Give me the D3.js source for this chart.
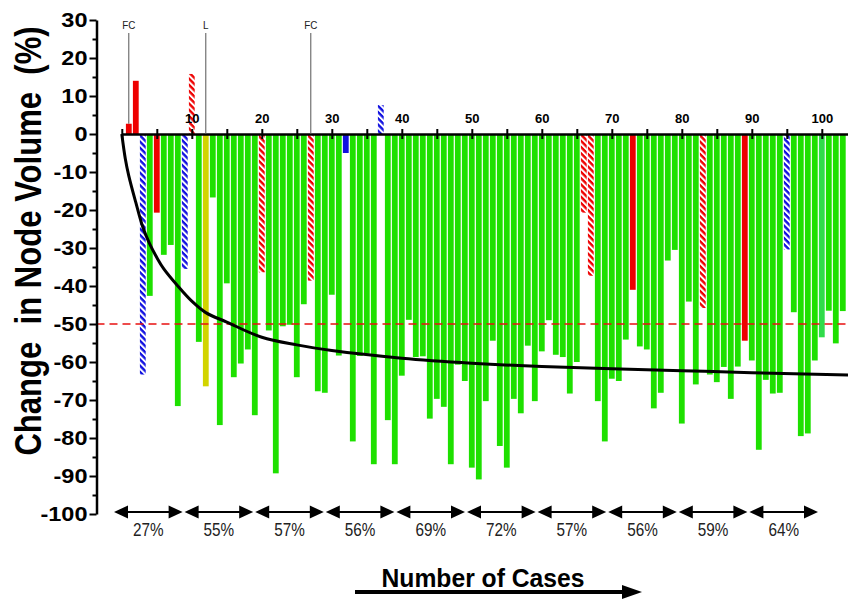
<!DOCTYPE html>
<html>
<head>
<meta charset="utf-8">
<script src="https://cdn.jsdelivr.net/npm/d3@7"></script>
<style>
  html, body { margin: 0; padding: 0; background: #fff; }
  svg { display: block; font-family: 'Liberation Sans', Arial, sans-serif; }
</style>
</head>
<body>
<svg id="chart" width="848" height="599"></svg>
<script>
// change in node volume (%) for each case, in case order 1..103
const volumeChange = [
  2.7, 14.0, -63.3, -42.6, -20.7, -31.8, -29.2, -71.6, -35.5, 15.8,
  -54.7, -66.4, -16.7, -76.6, -39.3, -64.0, -60.4, -56.7, -74.0, -36.4,
  -51.7, -89.3, -50.6, -50.2, -64.0, -44.8, -38.6, -67.7, -68.1, -42.3,
  -58.3, -5.0, -80.9, -58.4, -57.8, -86.9, 7.6, -75.3, -86.9, -63.6,
  -48.9, -58.7, -58.5, -74.9, -69.7, -71.8, -86.9, -60.7, -65.0, -87.8,
  -90.9, -70.3, -54.4, -82.1, -87.8, -69.7, -73.5, -55.7, -70.3, -57.2,
  -49.0, -58.1, -58.7, -68.3, -60.0, -20.7, -37.3, -70.3, -80.9, -64.4,
  -65.0, -54.1, -41.0, -55.9, -56.7, -72.2, -68.1, -33.3, -30.5, -76.2,
  -44.1, -65.9, -45.8, -63.3, -65.3, -61.3, -69.7, -61.2, -54.4, -59.6,
  -83.1, -64.7, -68.3, -68.1, -30.4, -46.9, -79.5, -78.8, -59.6, -53.5,
  -46.5, -55.1, -46.6
];

// cases that are not plain green bars
const specialCases = [1, 2, 3, 5, 9, 10, 12, 20, 27, 32, 37, 66, 67, 73, 83, 89, 95, 100];
const specialKinds = ["red", "red", "blueHatch", "red", "blueHatch", "redHatch", "yellow", "redHatch",
  "redHatch", "blue", "blueHatch", "redHatch", "redHatch", "red", "redHatch", "red", "blueHatch", "lightGreen"];

// trend curve
const trendCases = [0, 0.5, 1, 2, 3, 4, 5, 6, 8, 10, 12, 15, 20, 25, 30, 40, 50, 60, 70, 80, 90, 104];
const trendValues = [0, -6.5, -11, -18, -24.5, -29, -32.5, -35.5, -40, -44, -47, -49.5, -53.5, -55.5,
  -57, -59, -60.3, -61.2, -61.8, -62.3, -62.8, -63.4];

const threshold = -50;

const markerCases = [1, 12, 27];
const markerLabels = ["FC", "L", "FC"];

// share of responders per block of ten cases
const groupPercents = ["27%", "55%", "57%", "56%", "69%", "72%", "57%", "56%", "59%", "64%"];

const yMajorTicks = [30, 20, 10, 0, -10, -20, -30, -40, -50, -60, -70, -80, -90, -100];
const yMinorTicks = [25, 15, 5, -5, -15, -25, -35, -45, -55, -65, -75, -85, -95];
const xTicks = [0, 5, 10, 15, 20, 25, 30, 35, 40, 45, 50, 55, 60, 65, 70, 75, 80, 85, 90, 95, 100];
const xTickLabels = [10, 20, 30, 40, 50, 60, 70, 80, 90, 100];

const colors = {
  green: "#1ee000",
  lightGreen: "#30dc4a",
  red: "#ee0000",
  blue: "#1010e0",
  yellow: "#d2d400",
  redHatch: "url(#hatchRed)",
  blueHatch: "url(#hatchBlue)"
};

const svg = d3.select("#chart");
const W = 848;

const x = d3.scaleLinear().domain([0, 104]).range([121.8, 849.8]);
const y = d3.scaleLinear().domain([-100, 30]).range([514, 20]);
const axisX = 96.5;
const barW = 5.8;

// squeezed text helper (the original uses a condensed face)
function label(parent, tx, ty, sx, sy, txt) {
  return parent.append("text")
    .attr("transform", `translate(${tx},${ty}) scale(${sx},${sy})`)
    .attr("text-anchor", "middle")
    .attr("fill", "#000")
    .text(txt);
}

// hatch patterns
const defs = svg.append("defs");
[["hatchRed", colors.red], ["hatchBlue", colors.blue]].forEach(([id, c]) => {
  const p = defs.append("pattern")
    .attr("id", id)
    .attr("patternUnits", "userSpaceOnUse")
    .attr("width", 4.4)
    .attr("height", 4.4)
    .attr("patternTransform", "rotate(-45)");
  p.append("rect").attr("width", 4.4).attr("height", 4.4).attr("fill", c);
  p.append("rect").attr("x", 0).attr("width", 2).attr("height", 4.4).attr("fill", "#fff");
});

const bars = volumeChange.map((v, i) => {
  const k = specialCases.indexOf(i + 1);
  return { n: i + 1, value: v, kind: k >= 0 ? specialKinds[k] : "green" };
});

svg.append("g")
  .selectAll("rect")
  .data(bars)
  .join("rect")
  .attr("x", d => x(d.n) - barW / 2)
  .attr("y", d => y(Math.max(0, d.value)))
  .attr("width", barW)
  .attr("height", d => Math.abs(y(d.value) - y(0)))
  .attr("fill", d => colors[d.kind]);

// threshold line
svg.append("line")
  .attr("x1", axisX)
  .attr("x2", W)
  .attr("y1", y(threshold))
  .attr("y2", y(threshold))
  .attr("stroke", "#e81010")
  .attr("stroke-width", 1.6)
  .attr("stroke-dasharray", "8,5");

// trend curve
const trendLine = d3.line()
  .curve(d3.curveCatmullRom.alpha(0.5))
  .x(d => x(d[0]))
  .y(d => y(d[1]));

svg.append("path")
  .datum(trendCases.map((c, i) => [c, trendValues[i]]))
  .attr("fill", "none")
  .attr("stroke", "#000")
  .attr("stroke-width", 3)
  .attr("d", trendLine);

// y axis
const yAxis = svg.append("g")
  .attr("transform", `translate(${axisX},0)`)
  .call(d3.axisLeft(y).tickValues(yMajorTicks).tickSize(7).tickSizeOuter(0).tickPadding(2).tickFormat(d => String(d)));
yAxis.select(".domain").attr("stroke-width", 2.5);
yAxis.selectAll(".tick line").attr("stroke-width", 2);
yAxis.selectAll(".tick text")
  .attr("x", -9 / 1.12)
  .attr("transform", "scale(1.12,1)")
  .style("font-size", "21px")
  .style("font-weight", "bold")
  .attr("fill", "#000");

const yMinor = svg.append("g")
  .attr("transform", `translate(${axisX},0)`)
  .call(d3.axisLeft(y).tickValues(yMinorTicks).tickSize(4).tickFormat(""));
yMinor.select(".domain").remove();
yMinor.selectAll(".tick line").attr("stroke-width", 2);

// x axis across zero
const xAxis = svg.append("g")
  .attr("transform", `translate(0,${y(0)})`)
  .call(d3.axisTop(x).tickValues(xTicks).tickSize(5).tickSizeOuter(0).tickPadding(6)
    .tickFormat(d => xTickLabels.includes(d) ? d : ""));
xAxis.select(".domain").attr("stroke-width", 2.5);
xAxis.selectAll(".tick line").attr("y1", 5).attr("stroke-width", 2);
xAxis.selectAll(".tick text")
  .style("font-size", "13px")
  .style("font-weight", "bold")
  .attr("fill", "#000");

// FC / L markers
const markers = svg.append("g");
markerCases.forEach((c, i) => {
  const v = volumeChange[c - 1];
  markers.append("line")
    .attr("x1", x(c)).attr("x2", x(c))
    .attr("y1", 33)
    .attr("y2", y(Math.max(0, v)))
    .attr("stroke", "#555")
    .attr("stroke-width", 1);
  label(markers, x(c), 29, 0.9, 1, markerLabels[i])
    .style("font-size", "11px")
    .attr("fill", "#222");
});

// y title
svg.append("text")
  .attr("transform", "translate(41,241) scale(1,0.84) rotate(-90)")
  .attr("text-anchor", "middle")
  .style("white-space", "pre")
  .style("font-size", "37px")
  .style("font-weight", "bold")
  .attr("fill", "#000")
  .text("Change  in Node Volume  (%)");

// bottom group arrows, one per block of ten cases
const groups = d3.scaleBand().domain(d3.range(groupPercents.length)).range([113, 819]);
const arrowY = 512;
const head = 14;
const g = svg.append("g");
groupPercents.forEach((p, i) => {
  const x0 = groups(i) + 1;
  const x1 = groups(i) + groups.bandwidth() - 1;
  g.append("line")
    .attr("x1", x0 + head - 1).attr("x2", x1 - head + 1)
    .attr("y1", arrowY).attr("y2", arrowY)
    .attr("stroke", "#000").attr("stroke-width", 1.8);
  g.append("path")
    .attr("d", `M${x0},${arrowY}L${x0 + head},${arrowY - 6.5}L${x0 + head},${arrowY + 6.5}Z`)
    .attr("fill", "#000");
  g.append("path")
    .attr("d", `M${x1},${arrowY}L${x1 - head},${arrowY - 6.5}L${x1 - head},${arrowY + 6.5}Z`)
    .attr("fill", "#000");
  label(g, (x0 + x1) / 2, 536, 0.85, 1, p)
    .style("font-size", "18px")
    .attr("fill", "#222");
});

// x title with arrow
label(svg, 483, 587, 0.95, 1, "Number of Cases")
  .style("font-size", "26px")
  .style("font-weight", "bold");

svg.append("line")
  .attr("x1", 355).attr("x2", 625)
  .attr("y1", 592).attr("y2", 592)
  .attr("stroke", "#000").attr("stroke-width", 4);
svg.append("path")
  .attr("d", "M642,592L622,585L622,599Z")
  .attr("fill", "#000");
</script>
</body>
</html>
